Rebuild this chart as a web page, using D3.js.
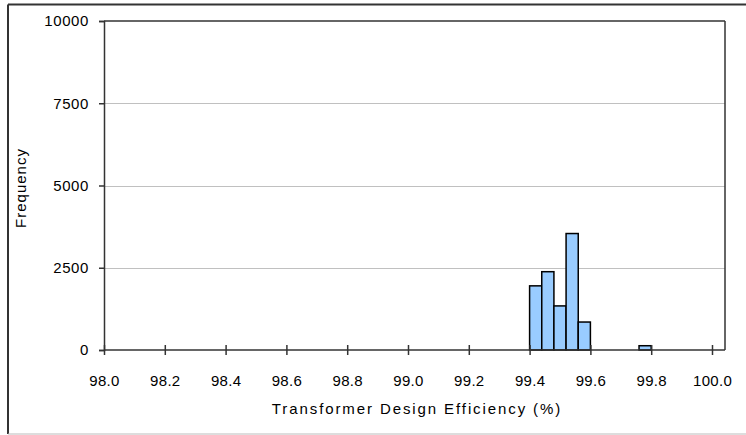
<!DOCTYPE html>
<html>
<head>
<meta charset="utf-8">
<script src="https://cdn.jsdelivr.net/npm/d3@7"></script>
<style>
  html, body { margin: 0; padding: 0; background: #fff; }
  svg { display: block; }
  text { font-family: Arial, "Liberation Sans", sans-serif; fill: #000; }
</style>
</head>
<body>
<svg id="chart" width="746" height="435"></svg>
<script>
// Histogram bins (lower edge, upper edge) in % efficiency and frequencies
const binStarts = [99.40, 99.44, 99.48, 99.52, 99.56, 99.76];
const binEnds   = [99.44, 99.48, 99.52, 99.56, 99.60, 99.80];
const frequencies = [1950, 2380, 1340, 3540, 850, 130];
const xTicks = [98.0, 98.2, 98.4, 98.6, 98.8, 99.0, 99.2, 99.4, 99.6, 99.8, 100.0];
const yTicks = [0, 2500, 5000, 7500, 10000];
const xTitle = "Transformer Design Efficiency (%)";
const yTitle = "Frequency";

const svg = d3.select("#chart");
const plotLeft = 104, plotRight = 725, plotTop = 21, plotBottom = 350;

const x = d3.scaleLinear().domain([98, 100]).range([plotLeft, 712]);
const y = d3.scaleLinear().domain([0, 10000]).range([plotBottom, plotTop]);

// outer frame
svg.append("line").attr("x1", 8).attr("x2", 8).attr("y1", 4.5).attr("y2", 434).attr("stroke", "#333").attr("stroke-width", 2);
svg.append("line").attr("x1", 8).attr("x2", 746).attr("y1", 4.5).attr("y2", 4.5).attr("stroke", "#333").attr("stroke-width", 2);
svg.append("line").attr("x1", 8).attr("x2", 746).attr("y1", 434).attr("y2", 434).attr("stroke", "#bbb").attr("stroke-width", 1);

// gridlines
svg.append("g").selectAll("line").data(yTicks.filter(d => d > 0 && d < 10000)).join("line")
  .attr("x1", plotLeft).attr("x2", plotRight)
  .attr("y1", d => Math.round(y(d)) + 0.5).attr("y2", d => Math.round(y(d)) + 0.5)
  .attr("stroke", "#c0c0c0").attr("stroke-width", 1);

// plot border top & right
svg.append("line").attr("x1", plotLeft).attr("x2", plotRight).attr("y1", plotTop).attr("y2", plotTop).attr("stroke", "#333").attr("stroke-width", 1.5);
svg.append("line").attr("x1", plotRight).attr("x2", plotRight).attr("y1", plotTop).attr("y2", plotBottom).attr("stroke", "#333").attr("stroke-width", 1.5);

// bars
svg.append("g").selectAll("rect").data(frequencies).join("rect")
  .attr("x", (d, i) => x(binStarts[i]))
  .attr("width", (d, i) => x(binEnds[i]) - x(binStarts[i]))
  .attr("y", d => y(d))
  .attr("height", d => plotBottom - y(d))
  .attr("fill", "#99ccff")
  .attr("stroke", "#000")
  .attr("stroke-width", 1.5);

// y axis
const yAxis = d3.axisLeft(y).tickValues(yTicks).tickSize(5).tickPadding(10).tickFormat(d3.format("d"));
const gy = svg.append("g").attr("transform", `translate(${plotLeft},0)`).call(yAxis);
gy.select(".domain").attr("stroke", "#333").attr("stroke-width", 1.5);
gy.selectAll(".tick line").attr("stroke", "#333").attr("stroke-width", 1.5);
gy.selectAll(".tick text").attr("font-size", 15).style("letter-spacing", "0.6px")
  .attr("font-family", "Arial, 'Liberation Sans', sans-serif");

// x axis
const xAxis = d3.axisBottom(x).tickValues(xTicks).tickSize(5).tickPadding(20).tickFormat(d3.format(".1f"));
const gx = svg.append("g").attr("transform", `translate(0,${plotBottom})`).call(xAxis);
gx.select(".domain").remove();
gx.append("line").attr("x1", plotLeft).attr("x2", plotRight).attr("y1", 0).attr("y2", 0).attr("stroke", "#333").attr("stroke-width", 1.5);
gx.selectAll(".tick line").attr("y1", -5).attr("y2", 5).attr("stroke", "#333").attr("stroke-width", 1.5);
gx.selectAll(".tick text").attr("font-size", 15).attr("dy", "0").attr("y", 36).style("letter-spacing", "0.3px")
  .attr("font-family", "Arial, 'Liberation Sans', sans-serif");

// titles
svg.append("text").attr("x", 417).attr("y", 414).attr("text-anchor", "middle")
  .attr("font-size", 15).style("letter-spacing", "1.9px").text(xTitle);
svg.append("text").attr("transform", "translate(26,188) rotate(-90)").attr("text-anchor", "middle")
  .attr("font-size", 15).style("letter-spacing", "1px").text(yTitle);
</script>
</body>
</html>
